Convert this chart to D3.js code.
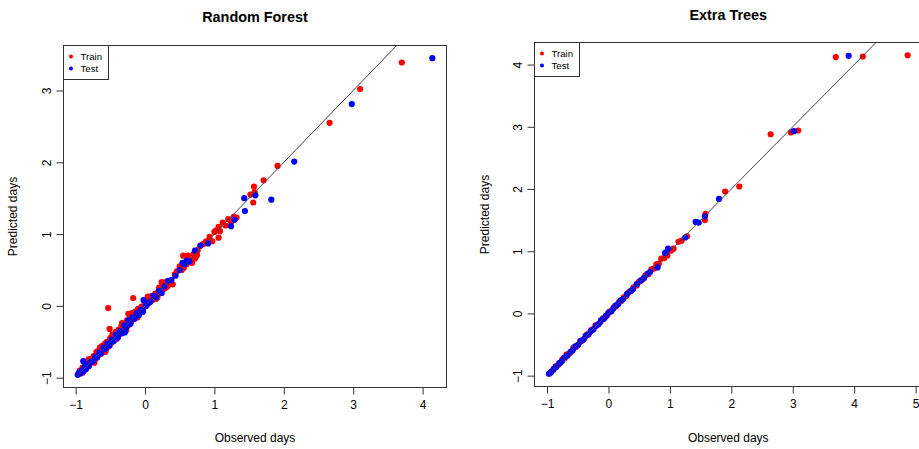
<!DOCTYPE html>
<html lang="en">
<head>
    <meta charset="UTF-8">
    <title>Observed vs predicted</title>
    <script src="https://d3js.org/d3.v7.min.js"></script>
</head>
<body style="margin:0;background:#fff;">

<style>
    svg text { font-family: "Liberation Sans", Arial, sans-serif; fill: #000; }
    .tick-label { font-size: 12px; }
    .axis-title { font-size: 12px; }
    .main-title { font-size: 14.4px; font-weight: bold; }
    .legend text { font-size: 9.6px; }
</style>

<script type="text/javascript">

    // [observed, predicted]
    var rfTrain = [
        [-0.96,-0.95],[-0.94,-0.90],[-0.92,-0.93],[-0.90,-0.86],[-0.88,-0.90],[-0.86,-0.83],
        [-0.84,-0.86],[-0.82,-0.79],[-0.80,-0.82],[-0.78,-0.74],[-0.76,-0.78],[-0.74,-0.70],
        [-0.72,-0.75],[-0.70,-0.64],[-0.68,-0.70],[-0.66,-0.62],[-0.64,-0.67],[-0.62,-0.56],
        [-0.60,-0.63],[-0.58,-0.53],[-0.56,-0.60],[-0.55,-0.50],[-0.53,-0.57],[-0.50,-0.45],
        [-0.48,-0.51],[-0.46,-0.42],[-0.44,-0.47],[-0.42,-0.36],[-0.40,-0.43],[-0.38,-0.33],
        [-0.36,-0.39],[-0.34,-0.28],[-0.32,-0.35],[-0.30,-0.25],[-0.28,-0.31],[-0.26,-0.20],
        [-0.24,-0.27],[-0.24,-0.11],[-0.22,-0.17],[-0.20,-0.22],[-0.18,-0.12],[-0.16,-0.18],
        [-0.14,-0.08],[-0.12,-0.13],[-0.10,-0.04],[-0.08,-0.10],[-0.05,-0.01],[-0.03,-0.06],
        [0.00,0.05],[0.02,0.00],[0.05,0.11],[0.07,0.05],[0.10,0.14],[0.12,0.09],[0.15,0.17],
        [0.18,0.12],[0.20,0.25],[0.22,0.19],[0.25,0.30],[0.28,0.24],[0.30,0.33],[0.33,0.28],
        [0.36,0.35],[0.40,0.30],[0.43,0.44],[0.46,0.48],[0.50,0.55],[0.53,0.50],[0.56,0.53],
        [0.60,0.58],[0.63,0.66],[0.66,0.63],[0.70,0.72],[0.73,0.68],[0.76,0.78],[0.80,0.84],
        [0.84,0.86],[0.88,0.90],[0.93,0.96],[0.97,0.90],[1.02,1.05],[1.08,1.04],[1.12,1.16],
        [1.16,1.12],[1.20,1.21],[1.24,1.17],[1.28,1.24],[1.32,1.23],
        [-0.90,-0.93],[-0.81,-0.74],[-0.73,-0.79],[-0.65,-0.58],[-0.57,-0.64],[-0.47,-0.40],
        [-0.41,-0.46],[-0.33,-0.24],[-0.27,-0.34],[-0.19,-0.10],[-0.11,-0.16],[0.04,0.13],
        [0.16,0.10],[0.24,0.33],[0.31,0.26],[0.62,0.70],[0.68,0.60],[0.75,0.71],
        [-0.53,-0.03],[-0.17,0.11],[-0.51,-0.32],[1.06,0.95],[1.06,1.10],[1.00,1.03],
        [0.55,0.70],[0.72,0.66],[1.52,1.55],[1.56,1.44],[1.57,1.66],[1.58,1.58],
        [1.71,1.75],[1.91,1.95],[2.66,2.55],[3.10,3.02],[3.70,3.39]
    ];
    var rfTest = [
        [-0.97,-0.96],[-0.95,-0.93],[-0.93,-0.94],[-0.91,-0.90],[-0.89,-0.91],[-0.87,-0.85],
        [-0.85,-0.88],[-0.83,-0.82],[-0.81,-0.84],[-0.78,-0.78],[-0.75,-0.77],[-0.72,-0.71],
        [-0.69,-0.72],[-0.66,-0.65],[-0.63,-0.66],[-0.60,-0.58],[-0.57,-0.60],[-0.54,-0.52],
        [-0.51,-0.55],[-0.48,-0.47],[-0.45,-0.49],[-0.42,-0.40],[-0.39,-0.44],[-0.36,-0.35],
        [-0.33,-0.38],[-0.30,-0.27],[-0.27,-0.30],[-0.24,-0.20],[-0.21,-0.25],[-0.18,-0.16],
        [-0.15,-0.18],[-0.12,-0.10],[-0.09,-0.13],[-0.06,-0.05],[-0.03,-0.08],[0.01,0.00],
        [0.04,0.03],[0.08,0.06],[0.12,0.14],[0.16,0.12],[0.20,0.21],[0.24,0.18],[0.28,0.27],
        [0.33,0.35],[0.38,0.36],[0.44,0.42],[0.50,0.50],[0.54,0.60],[0.57,0.58],[0.60,0.63],
        [0.64,0.62],
        [-0.89,-0.77],[-0.02,0.08],[-0.29,-0.37],[0.72,0.77],[0.80,0.84],[0.91,0.87],
        [1.24,1.11],[1.29,1.20],[1.43,1.50],[1.44,1.32],[1.59,1.54],[1.82,1.48],
        [2.15,2.01],[2.98,2.81],[4.14,3.45]
    ];
    var etTrain = [
        [-0.95,-0.96],[-0.90,-0.91],[-0.86,-0.85],[-0.82,-0.83],[-0.78,-0.79],[-0.75,-0.74],
        [-0.71,-0.72],[-0.68,-0.66],[-0.64,-0.65],[-0.60,-0.61],[-0.57,-0.55],[-0.53,-0.54],
        [-0.50,-0.51],[-0.46,-0.45],[-0.43,-0.44],[-0.39,-0.40],[-0.35,-0.34],[-0.32,-0.33],
        [-0.28,-0.27],[-0.24,-0.25],[-0.21,-0.19],[-0.17,-0.18],[-0.13,-0.14],[-0.09,-0.08],
        [-0.06,-0.07],[-0.02,-0.03],[0.02,0.03],[0.05,0.04],[0.09,0.10],[0.13,0.12],
        [0.17,0.18],[0.21,0.20],[0.25,0.26],[0.29,0.28],[0.33,0.34],[0.37,0.36],[0.41,0.42],
        [0.46,0.45],[0.50,0.51],[0.55,0.54],[0.60,0.61],[0.65,0.63],[0.70,0.71],[0.74,0.72],
        [0.78,0.79],[0.82,0.80],[0.86,0.88],[0.91,0.89],[0.96,0.93],[1.02,1.01],[1.06,1.04],
        [1.14,1.15],[1.19,1.17],[1.28,1.24],
        [1.57,1.50],[1.58,1.60],[1.90,1.96],[2.13,2.04],[2.64,2.88],[2.97,2.91],[3.09,2.94],
        [3.70,4.12],[4.14,4.13],[4.87,4.15]
    ];
    var etTest = [
        [-0.97,-0.97],[-0.93,-0.94],[-0.89,-0.89],[-0.85,-0.86],[-0.80,-0.80],[-0.76,-0.77],
        [-0.72,-0.71],[-0.67,-0.68],[-0.62,-0.62],[-0.58,-0.59],[-0.54,-0.53],[-0.49,-0.50],
        [-0.45,-0.44],[-0.41,-0.42],[-0.37,-0.36],[-0.33,-0.34],[-0.29,-0.29],[-0.25,-0.26],
        [-0.20,-0.20],[-0.16,-0.17],[-0.12,-0.11],[-0.08,-0.09],[-0.04,-0.04],[0.00,0.01],
        [0.04,0.03],[0.08,0.08],[0.12,0.13],[0.16,0.15],[0.20,0.21],[0.24,0.23],[0.30,0.31],
        [0.36,0.36],[0.40,0.39],[0.46,0.47],[0.53,0.53],[0.58,0.57],[0.64,0.64],[0.68,0.67],
        [0.80,0.74],[0.92,0.97],[0.94,0.98],[0.97,1.04],[1.25,1.22],
        [1.42,1.47],[1.47,1.46],[1.57,1.56],[1.80,1.84],[3.02,2.93],[3.91,4.14]
    ];

    var xTicksRF = [-1, 0, 1, 2, 3, 4],
        yTicksRF = [-1, 0, 1, 2, 3],
        xTicksET = [-1, 0, 1, 2, 3, 4, 5],
        yTicksET = [-1, 0, 1, 2, 3, 4];

    var legendLabels = ["Train", "Test"],
        seriesColors = ["#ff0000", "#0000ff"];

    var svg = d3.select("body").append("svg")
            .attr("width", 919)
            .attr("height", 449);

    // R style 4% padding of the data range
    function rRange(vals) {
        var e = d3.extent(vals), pad = (e[1] - e[0]) * 0.04;
        return [e[0] - pad, e[1] + pad];
    }

    function drawPanel(p) {
        var all = p.train.concat(p.test);
        var xScale = d3.scaleLinear()
                .domain(rRange(all.map(function(d){ return d[0]; })))
                .range([p.left, p.right]);
        var yScale = d3.scaleLinear()
                .domain(rRange(all.map(function(d){ return d[1]; })))
                .range([p.bottom, p.top]);

        var g = svg.append("g");

        g.append("clipPath").attr("id", p.id + "-clip")
            .append("rect")
            .attr("x", p.left).attr("y", p.top)
            .attr("width", p.right - p.left).attr("height", p.bottom - p.top);

        var plot = g.append("g").attr("clip-path", "url(#" + p.id + "-clip)");

        plot.append("g").selectAll("circle")
                .data(p.train).enter()
                .append("circle")
                .attr("cx", function(d){ return xScale(d[0]); })
                .attr("cy", function(d){ return yScale(d[1]); })
                .attr("r", 3.1)
                .style("fill", seriesColors[0]);

        plot.append("g").selectAll("circle")
                .data(p.test).enter()
                .append("circle")
                .attr("cx", function(d){ return xScale(d[0]); })
                .attr("cy", function(d){ return yScale(d[1]); })
                .attr("r", 3.1)
                .style("fill", seriesColors[1]);

        // 1:1 line starting at the smallest observed value
        var lo = d3.min(all, function(d){ return d[0]; }),
            hi = xScale.domain()[1];
        plot.append("line")
                .attr("x1", xScale(lo)).attr("y1", yScale(lo))
                .attr("x2", xScale(hi)).attr("y2", yScale(hi))
                .style("stroke", "#444")
                .style("stroke-width", 1);

        var xAxis = d3.axisBottom(xScale).tickValues(p.xTicks).tickSize(7).tickPadding(6)
                .tickFormat(d3.format("d"));
        var yAxis = d3.axisLeft(yScale).tickValues(p.yTicks).tickSize(7).tickPadding(6)
                .tickFormat(d3.format("d"));

        var gx = g.append("g")
                .attr("transform", "translate(0," + p.bottom + ")")
                .call(xAxis);
        gx.select(".domain").remove();
        gx.selectAll("line").style("stroke", "#333");
        gx.selectAll("text").attr("class", "tick-label")
                .attr("fill", "#222");

        var gy = g.append("g")
                .attr("transform", "translate(" + p.left + ",0)")
                .call(yAxis);
        gy.select(".domain").remove();
        gy.selectAll("line").style("stroke", "#333");
        gy.selectAll("text")
                .attr("class", "tick-label")
                .attr("fill", "#222")
                .attr("x", 0).attr("dy", null)
                .attr("text-anchor", "middle")
                .attr("transform", "translate(-17,0) rotate(-90)")
                .attr("y", 4);

        g.append("rect")
                .attr("x", p.left).attr("y", p.top)
                .attr("width", p.right - p.left).attr("height", p.bottom - p.top)
                .style("fill", "none")
                .style("stroke", "#333")
                .style("stroke-width", 1);

        g.append("text")
                .attr("class", "main-title")
                .attr("x", (p.left + p.right) / 2)
                .attr("y", p.titleY)
                .attr("text-anchor", "middle")
                .text(p.title);

        g.append("text")
                .attr("class", "axis-title")
                .attr("x", (p.left + p.right) / 2)
                .attr("y", 442)
                .attr("text-anchor", "middle")
                .text("Observed days");

        g.append("text")
                .attr("class", "axis-title")
                .attr("transform", "translate(" + p.yTitleX + "," + ((p.top + p.bottom) / 2) + ") rotate(-90)")
                .attr("text-anchor", "middle")
                .text("Predicted days");

        // legend
        var lg = g.append("g").attr("class", "legend");
        lg.append("rect")
                .attr("x", p.left).attr("y", p.top)
                .attr("width", 45).attr("height", 34)
                .style("fill", "#fff")
                .style("stroke", "#333");
        legendLabels.forEach(function(lab, i) {
            lg.append("circle")
                    .attr("cx", p.left + 7.5)
                    .attr("cy", p.top + 11 + i * 12)
                    .attr("r", 2)
                    .style("fill", seriesColors[i]);
            lg.append("text")
                    .attr("x", p.left + 17)
                    .attr("y", p.top + 14.5 + i * 12)
                    .text(lab);
        });
    }

    drawPanel({id: "rf", title: "Random Forest", train: rfTrain, test: rfTest,
        left: 63.5, right: 446.5, top: 45.5, bottom: 387.5, titleY: 22, yTitleX: 17,
        xTicks: xTicksRF, yTicks: yTicksRF});

    drawPanel({id: "et", title: "Extra Trees", train: etTrain, test: etTest,
        left: 534.5, right: 922, top: 42.5, bottom: 386.5, titleY: 20, yTitleX: 489,
        xTicks: xTicksET, yTicks: yTicksET});

</script>

</body>
</html>
